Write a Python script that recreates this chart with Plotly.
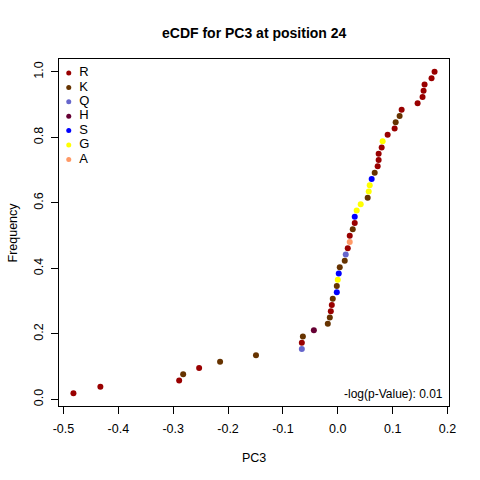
import plotly.graph_objects as go

# ---- data ----
pc3 = [-0.4818, -0.4327, -0.2891, -0.2818, -0.2527, -0.2145, -0.1491,
       -0.0655, -0.0655, -0.0636, -0.0436, -0.0182, -0.0145, -0.0127, -0.0109,
       -0.0091, -0.0018, -0.0018, 0.0000, 0.0018, 0.0036, 0.0127, 0.0145,
       0.0182, 0.0218, 0.0218, 0.0273, 0.0309, 0.0309, 0.0345, 0.0418,
       0.0545, 0.0564, 0.0582, 0.0618, 0.0673, 0.0727, 0.0745, 0.0745,
       0.0800, 0.0818, 0.0909, 0.1036, 0.1055, 0.1127, 0.1164, 0.1455,
       0.1545, 0.1564, 0.1582, 0.1709, 0.1764]
residue = ["R", "R", "R", "K", "R", "K", "K",
           "Q", "R", "K", "H", "K", "K", "R", "R",
           "K", "S", "K", "G", "S", "K", "K", "Q",
           "R", "A", "R", "K", "R", "S", "G", "G",
           "K", "G", "G", "S", "K", "R", "R", "R",
           "R", "G", "R", "R", "K", "K", "R", "R",
           "R", "R", "R", "R", "R"]
legend_labels = ["R", "K", "Q", "H", "S", "G", "A"]
legend_colors = ["#990000", "#663300", "#6666CC", "#660033", "#0000FF", "#FFFF00", "#FF9966"]
x_ticks = [-0.5, -0.4, -0.3, -0.2, -0.1, 0.0, 0.1, 0.2]
y_ticks = [0.0, 0.2, 0.4, 0.6, 0.8, 1.0]
title_text = "eCDF for PC3 at position 24"
pvalue_text = "-log(p-Value): 0.01"

color_of = dict(zip(legend_labels, legend_colors))
n = len(pc3)
freq = [(i + 1) / n for i in range(n)]

FONT = "Liberation Sans, Arial, sans-serif"

fig = go.Figure()
fig.add_trace(go.Scatter(
    x=pc3, y=freq, mode="markers",
    marker=dict(size=6, color=[color_of[r] for r in residue], line=dict(width=0)),
    showlegend=False, hoverinfo="skip"))

# legend drawn on an overlay axis (fractions of the plot area)
lx = 0.025
ly0 = 0.9597
dy = 0.0415
ly = [ly0 - k * dy for k in range(len(legend_labels))]
fig.add_trace(go.Scatter(
    x=[lx] * len(legend_labels), y=ly, mode="markers",
    marker=dict(size=5, color=legend_colors, line=dict(width=0)),
    xaxis="x2", yaxis="y2", showlegend=False, hoverinfo="skip"))
fig.add_trace(go.Scatter(
    x=[lx + 0.027] * len(legend_labels), y=ly, mode="text",
    text=legend_labels, textposition="middle right",
    textfont=dict(size=13, color="black", family=FONT),
    xaxis="x2", yaxis="y2", showlegend=False, hoverinfo="skip"))

xmin, xmax = min(pc3), max(pc3)
xpad = 0.04 * (xmax - xmin)
ymin, ymax = min(freq), max(freq)
ypad = 0.04 * (ymax - ymin)

axis_common = dict(showline=True, mirror=True, linecolor="black", linewidth=1,
                   ticks="outside", ticklen=7, tickwidth=1, tickcolor="black",
                   showgrid=False, zeroline=False,
                   tickfont=dict(size=12.5, color="black", family=FONT))

fig.update_layout(
    width=480, height=480,
    margin=dict(l=59, r=31, t=59, b=74),
    paper_bgcolor="white", plot_bgcolor="white",
    font=dict(family=FONT, color="black", size=12),
    xaxis=dict(range=[xmin - xpad, xmax + xpad], tickvals=x_ticks,
               ticktext=[f"{v:.1f}" for v in x_ticks], ticklabelstandoff=4,
               **axis_common),
    yaxis=dict(range=[ymin - ypad, ymax + ypad], tickvals=y_ticks,
               ticktext=[f"{v:.1f}" for v in y_ticks], tickangle=-90,
               ticklabelstandoff=3, **axis_common),
    xaxis2=dict(overlaying="x", range=[0, 1], visible=False),
    yaxis2=dict(overlaying="y", range=[0, 1], visible=False),
    annotations=[
        dict(text="<b>" + title_text + "</b>", xref="paper", yref="paper",
             x=0.5, y=1, yshift=26, showarrow=False, font=dict(size=14),
             xanchor="center", yanchor="middle"),
        dict(text="PC3", xref="paper", yref="paper", x=0.5, y=0, yshift=-52,
             showarrow=False, font=dict(size=12.5), xanchor="center", yanchor="middle"),
        dict(text="Frequency", xref="paper", yref="paper", x=0, y=0.5, xshift=-47,
             showarrow=False, textangle=-90, font=dict(size=12.5),
             xanchor="center", yanchor="middle"),
        dict(text=pvalue_text, xref="paper", yref="paper", x=1, y=0,
             xshift=-4, yshift=12, showarrow=False, font=dict(size=12),
             xanchor="right", yanchor="middle"),
    ],
)

fig.write_html("out.html", config={"displayModeBar": False},
               post_script="document.body.style.margin='0px';")
